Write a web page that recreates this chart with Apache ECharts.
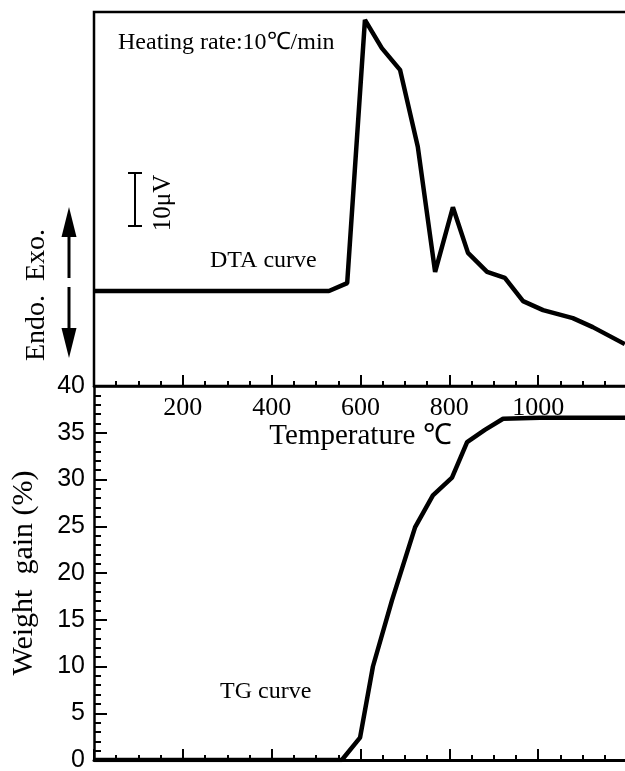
<!DOCTYPE html>
<html>
<head>
<meta charset="utf-8">
<script src="https://cdn.jsdelivr.net/npm/echarts@6/dist/echarts.min.js"></script>
<style>
  html, body { margin: 0; padding: 0; background: #fff; }
  #chart { width: 625px; height: 771px; }
</style>
</head>
<body>
<div id="chart"></div>
<script>
// DTA curve (signal in μV relative to the flat baseline)
const dtaTemp = [0, 529, 570, 610, 648, 689, 729, 768, 808, 842, 885, 925, 966, 1011, 1078, 1123, 1195]
const dtaSignal = [0, 0, 1.5, 51.1, 45.8, 41.7, 27.2, 3.6, 15.8, 7.2, 3.6, 2.5, -1.9, -3.6, -5.1, -6.8, -10]

// TG curve (weight gain %)
const tgTemp = [0, 558, 599, 628, 671, 723, 763, 806, 840, 880, 921, 1004, 1200]
const tgGain = [0, 0, 2.4, 10.0, 17.1, 24.9, 28.3, 30.2, 34.0, 35.3, 36.5, 36.6, 36.6]

const tempHidden = [0, 1200]

const serif = '"Liberation Serif", "Times New Roman", serif'
const sans = '"Liberation Sans", Arial, sans-serif'

const zip = (xs, ys) => xs.map((x, i) => [x, ys[i]])

const chart = echarts.init(document.getElementById('chart'))

const tempAxis = (gridIndex, labels) => ({
  type: 'value',
  gridIndex,
  min: 0,
  max: 1200,
  interval: 200,
  axisLine: { show: true, onZero: false, lineStyle: { color: '#000', width: gridIndex ? 3 : 2.5 } },
  axisTick: { show: true, inside: true, length: 11, lineStyle: { color: '#000', width: 2 } },
  minorTick: { show: true, splitNumber: 4, length: 5, lineStyle: { color: '#000', width: 2 } },
  splitLine: { show: false },
  minorSplitLine: { show: false },
  axisLabel: {
    show: labels,
    margin: 9,
    color: '#000',
    fontFamily: serif,
    fontSize: 26,
    formatter: v => tempHidden.includes(v) ? '' : String(v),
  },
})

chart.setOption({
  animation: false,
  backgroundColor: '#fff',
  grid: [
    {
      left: 94, width: 533, top: 12, height: 374, outerBoundsMode: 'none',
      show: true, borderColor: '#000', borderWidth: 2.5, backgroundColor: 'transparent',
    },
    { left: 94, width: 533, top: 386, bottom: 11, outerBoundsMode: 'none' },
  ],
  xAxis: [
    Object.assign(tempAxis(0, true), {
      name: 'Temperature ℃',
      nameLocation: 'middle',
      nameGap: 34,
      nameTextStyle: { color: '#000', fontFamily: serif, fontSize: 29 },
    }),
    tempAxis(1, false),
  ],
  yAxis: [
    { type: 'value', gridIndex: 0, min: -17.9, max: 52.6, show: false },
    {
      type: 'value',
      gridIndex: 1,
      min: 0,
      max: 40,
      interval: 5,
      name: 'Weight  gain (%)',
      nameLocation: 'middle',
      nameRotate: 90,
      nameGap: 55,
      nameTextStyle: { color: '#000', fontFamily: serif, fontSize: 30 },
      axisLine: { show: true, onZero: false, lineStyle: { color: '#000', width: 2.5 } },
      axisTick: { show: true, inside: true, length: 13, lineStyle: { color: '#000', width: 2 } },
      minorTick: { show: true, splitNumber: 5, length: 7, lineStyle: { color: '#000', width: 2 } },
      splitLine: { show: false },
      axisLabel: { color: '#000', fontFamily: sans, fontSize: 25, margin: 9 },
    },
  ],
  series: [
    {
      name: 'DTA',
      type: 'line',
      xAxisIndex: 0,
      yAxisIndex: 0,
      showSymbol: false,
      lineStyle: { color: '#000', width: 4.5 },
      data: zip(dtaTemp, dtaSignal),
    },
    {
      name: 'TG',
      type: 'line',
      xAxisIndex: 1,
      yAxisIndex: 1,
      showSymbol: false,
      lineStyle: { color: '#000', width: 4.5 },
      data: zip(tgTemp, tgGain),
    },
  ],
  graphic: [
    { type: 'text', left: 118, top: 31, style: { text: 'Heating rate:10℃/min', fill: '#000', font: '24px ' + serif } },
    { type: 'text', left: 210, top: 249, style: { text: 'DTA curve', fill: '#000', font: '24px ' + serif } },
    { type: 'text', left: 220, top: 680, style: { text: 'TG curve', fill: '#000', font: '24px ' + serif } },
    // 10 μV scale bar
    { type: 'line', shape: { x1: 135, y1: 173, x2: 135, y2: 226 }, style: { stroke: '#000', lineWidth: 2 } },
    { type: 'line', shape: { x1: 128, y1: 173, x2: 142, y2: 173 }, style: { stroke: '#000', lineWidth: 2 } },
    { type: 'line', shape: { x1: 128, y1: 226, x2: 142, y2: 226 }, style: { stroke: '#000', lineWidth: 2 } },
    {
      type: 'text', x: 163, y: 203, rotation: Math.PI / 2,
      style: { text: '10μV', fill: '#000', font: '25px ' + serif, align: 'center', verticalAlign: 'middle' },
    },
    // Endo / Exo arrow
    {
      type: 'text', x: 37, y: 295, rotation: Math.PI / 2,
      style: { text: 'Endo.  Exo.', fill: '#000', font: '28px ' + serif, align: 'center', verticalAlign: 'middle' },
    },
    { type: 'line', shape: { x1: 69, y1: 235, x2: 69, y2: 278 }, style: { stroke: '#000', lineWidth: 3 } },
    { type: 'line', shape: { x1: 69, y1: 287, x2: 69, y2: 330 }, style: { stroke: '#000', lineWidth: 3 } },
    { type: 'polygon', shape: { points: [[69, 207], [61.5, 237], [76.5, 237]] }, style: { fill: '#000' } },
    { type: 'polygon', shape: { points: [[69, 358], [61.5, 328], [76.5, 328]] }, style: { fill: '#000' } },
  ],
})
</script>
</body>
</html>
